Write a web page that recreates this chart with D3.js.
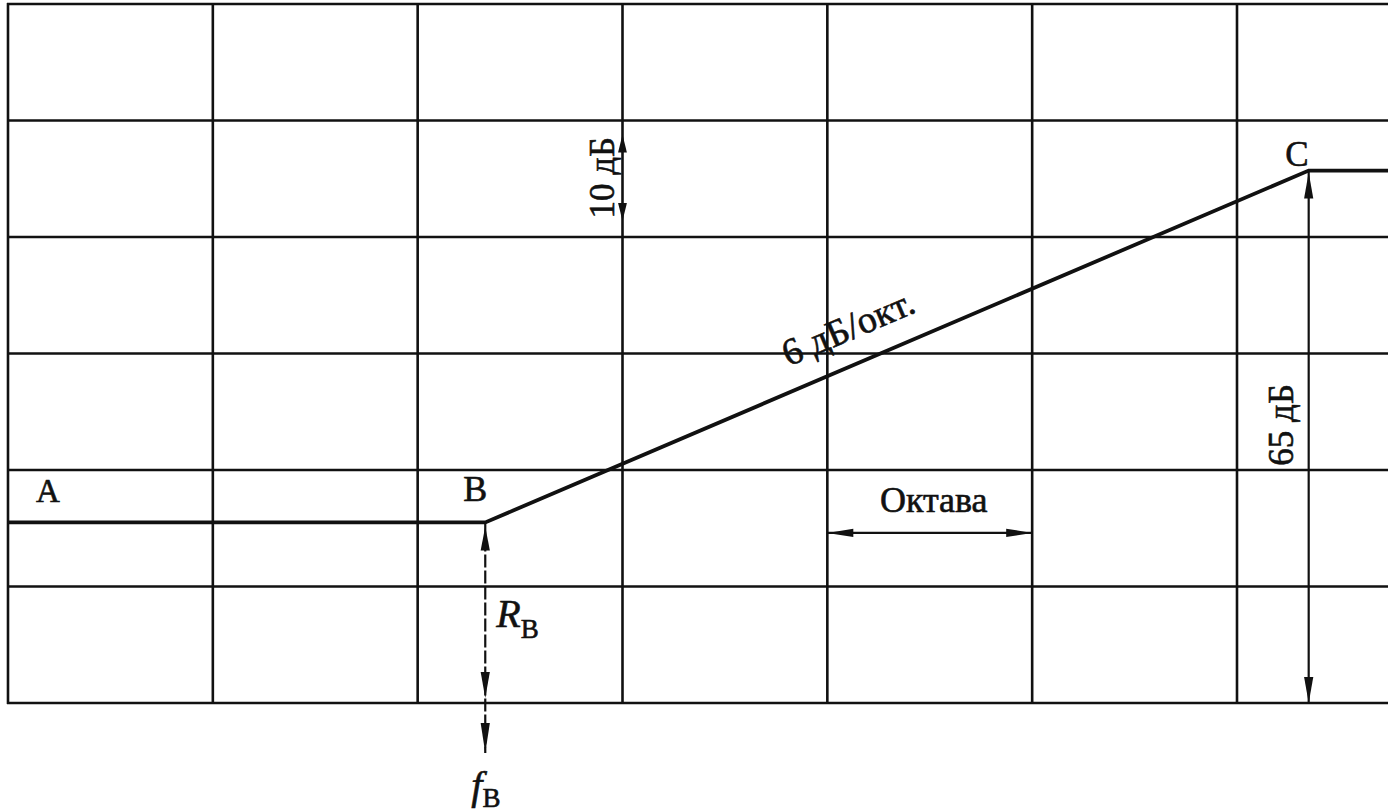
<!DOCTYPE html>
<html>
<head>
<meta charset="utf-8">
<script src="https://cdn.jsdelivr.net/npm/d3@7"></script>
<style>
  html, body { margin: 0; padding: 0; background: #fff; }
  svg { display: block; }
  text { fill: #111; stroke: #111; stroke-width: 0.6px; font-family: "Liberation Serif", "DejaVu Serif", serif; }
</style>
</head>
<body>
<div id="chartContainer"></div>
<script>
// grid: one column per octave, one row per 10 dB
const octaveTicks = [0, 1, 2, 3, 4, 5, 6];
const dbTicks = [0, 10, 20, 30, 40, 50, 60];

// response A-B-C and the flat part after C
const responseOct = [0, 2.33, 6.35, 6.8];
const responseDb = [15.5, 15.5, 45.7, 45.7];
const pointNames = ['A', 'B', 'C'];

// dimension marks
const tenDbOct = 3;
const tenDbRange = [40, 50];
const octaveSpan = [4, 5];
const octaveArrowDb = 14.6;
const fbStopDb = -4.3;

function makeChart() {
    const width = 1388;
    const height = 812;

    const svg = d3.select('#chartContainer')
        .append('svg')
        .attr('width', width)
        .attr('height', height);

    const scaleX = d3.scaleLinear()
        .domain([0, 6])
        .range([8, 1237]);

    const scaleY = d3.scaleLinear()
        .domain([0, 60])
        .range([703, 4]);

    const ink = '#111';

    // grid
    svg.append('g')
        .selectAll('line')
        .data(dbTicks)
        .enter()
        .append('line')
        .attr('x1', scaleX(0) - 1)
        .attr('x2', width)
        .attr('y1', d => scaleY(d))
        .attr('y2', d => scaleY(d))
        .attr('stroke', ink)
        .attr('stroke-width', 2.6);

    svg.append('g')
        .selectAll('line')
        .data(octaveTicks)
        .enter()
        .append('line')
        .attr('x1', d => scaleX(d))
        .attr('x2', d => scaleX(d))
        .attr('y1', scaleY(60) - 1)
        .attr('y2', scaleY(0) + 1)
        .attr('stroke', ink)
        .attr('stroke-width', 2.6);

    // response curve
    const pts = responseOct.map((o, i) => ({ oct: o, db: responseDb[i] }));
    const lineMaker = d3.line()
        .x(d => scaleX(d.oct))
        .y(d => scaleY(d.db));

    svg.append('path')
        .attr('d', lineMaker(pts))
        .attr('fill', 'none')
        .attr('stroke', ink)
        .attr('stroke-width', 3.8)
        .attr('stroke-linejoin', 'miter');

    // arrowhead: tip at (x,y), pointing along (dx,dy)
    function arrowHead(x, y, dx, dy, len = 20, half = 4.4) {
        const px = -dy, py = dx;
        const bx = x - dx * len, by = y - dy * len;
        svg.append('path')
            .attr('d', `M${x},${y}L${bx + px * half},${by + py * half}L${bx - px * half},${by - py * half}Z`)
            .attr('fill', ink);
    }

    function vLine(x, y1, y2, dash) {
        svg.append('line')
            .attr('x1', x).attr('x2', x)
            .attr('y1', y1).attr('y2', y2)
            .attr('stroke', ink)
            .attr('stroke-width', 2.2)
            .attr('stroke-dasharray', dash || null);
    }

    // 10 dB mark
    const tx = scaleX(tenDbOct);
    arrowHead(tx, scaleY(tenDbRange[1]) + 14, 0, -1, 18);
    arrowHead(tx, scaleY(tenDbRange[0]) - 16, 0, 1, 18);
    svg.append('text')
        .attr('transform', `translate(${tx - 9}, ${(scaleY(tenDbRange[0]) + scaleY(tenDbRange[1])) / 2 - 1}) rotate(-90)`)
        .attr('text-anchor', 'middle')
        .attr('font-size', 35)
        .text('10 дБ');

    // octave mark
    const oy = scaleY(octaveArrowDb);
    const ox1 = scaleX(octaveSpan[0]), ox2 = scaleX(octaveSpan[1]);
    svg.append('line')
        .attr('x1', ox1).attr('x2', ox2)
        .attr('y1', oy).attr('y2', oy)
        .attr('stroke', ink)
        .attr('stroke-width', 2.2);
    arrowHead(ox1, oy, -1, 0, 26, 4.2);
    arrowHead(ox2, oy, 1, 0, 26, 4.2);
    svg.append('text')
        .attr('x', (ox1 + ox2) / 2 + 4)
        .attr('y', oy - 21)
        .attr('text-anchor', 'middle')
        .attr('font-size', 36)
        .text('Октава');

    // R_B / f_B mark under B
    const bx = scaleX(responseOct[1]);
    const by = scaleY(responseDb[1]);
    vLine(bx, by, scaleY(fbStopDb), '13,3');
    arrowHead(bx, by + 4, 0, -1, 24, 4.6);
    arrowHead(bx, scaleY(0) - 5, 0, 1, 26, 4.6);
    arrowHead(bx, scaleY(fbStopDb), 0, 1, 30, 4.6);

    const rb = svg.append('text')
        .attr('x', bx + 11)
        .attr('y', scaleY(0) - 76)
        .attr('font-size', 40)
        .attr('font-style', 'italic');
    rb.append('tspan').text('R');
    rb.append('tspan').attr('font-size', 27).attr('font-style', 'normal').attr('dy', 11).text('B');

    const fb = svg.append('text')
        .attr('x', bx - 14)
        .attr('y', scaleY(fbStopDb) + 46)
        .attr('font-size', 40)
        .attr('font-style', 'italic');
    fb.append('tspan').text('f');
    fb.append('tspan').attr('font-size', 27).attr('font-style', 'normal').attr('dy', 8).text('B');

    // 65 dB mark under C
    const cx = scaleX(responseOct[2]);
    const cy = scaleY(responseDb[2]);
    vLine(cx, cy, scaleY(0));
    arrowHead(cx, cy + 2, 0, -1, 26, 4.6);
    arrowHead(cx, scaleY(0), 0, 1, 26, 4.6);
    svg.append('text')
        .attr('transform', `translate(${cx - 16}, ${(cy + scaleY(0)) / 2 - 12}) rotate(-90)`)
        .attr('text-anchor', 'middle')
        .attr('font-size', 35)
        .text('65 дБ');

    // slope label along B-C
    const angle = Math.atan2(cy - by, cx - bx) * 180 / Math.PI;
    const mx = bx + (cx - bx) * 0.458;
    const my = by + (cy - by) * 0.458;
    svg.append('text')
        .attr('transform', `translate(${mx}, ${my}) rotate(${angle})`)
        .attr('y', -24)
        .attr('text-anchor', 'middle')
        .attr('font-size', 38)
        .text('6 дБ/окт.');

    // point names
    svg.append('text')
        .attr('x', scaleX(responseOct[0]) + 28)
        .attr('y', by - 20)
        .attr('font-family', '"Liberation Sans", sans-serif')
        .attr('font-size', 33)
        .text(pointNames[0]);
    svg.append('text')
        .attr('x', bx + 2)
        .attr('y', by - 21)
        .attr('text-anchor', 'end')
        .attr('font-size', 36)
        .text(pointNames[1]);
    svg.append('text')
        .attr('x', cx)
        .attr('y', cy - 5)
        .attr('text-anchor', 'end')
        .attr('font-size', 35)
        .text(pointNames[2]);
}

makeChart();
</script>
</body>
</html>
